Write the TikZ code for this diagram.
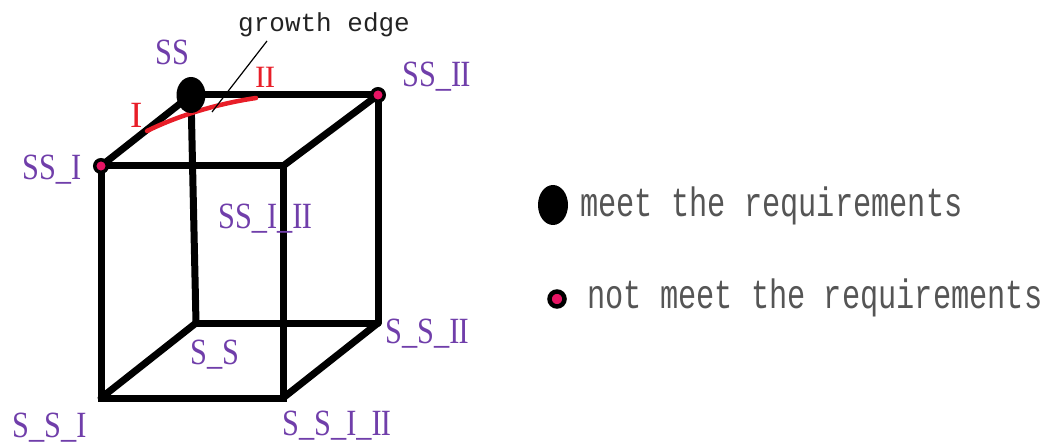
\documentclass[tikz,border=0pt]{standalone}
\usepackage{fontspec}
\setmainfont{Liberation Serif}
\newfontfamily\labfont[FakeStretch=0.82]{Liberation Serif}
\newfontfamily\legfont[FakeStretch=0.74]{Liberation Mono}
\newfontfamily\grfont[FakeStretch=1.0]{Liberation Mono}
\definecolor{labpurple}{RGB}{112,62,170}
\definecolor{numred}{RGB}{232,30,40}
\definecolor{dotpink}{RGB}{232,20,100}
\definecolor{leggray}{RGB}{85,85,85}
\tikzset{
  edge/.style={line width=7pt, line cap=round, line join=miter},
  lab/.style={inner sep=0, anchor=base west, text=labpurple, font=\labfont\fontsize{37}{37}\selectfont},
  roman/.style={inner sep=0, anchor=base west, text=numred},
  legtext/.style={inner sep=0, anchor=base west, text=leggray, font=\legfont\fontsize{41}{41}\selectfont},
  smalldot/.style={circle, fill=dotpink, draw=black, line width=3.5pt, inner sep=0, minimum size=12.5pt},
}
\usetikzlibrary{shapes.geometric}
\begin{document}
\begin{tikzpicture}[x=1pt,y=-1pt]
\useasboundingbox (0,0) rectangle (1048,446);
% cube vertices
\coordinate (A) at (191,95);
\coordinate (B) at (378,95);
\coordinate (C) at (101,166);
\coordinate (D) at (283,166);
\coordinate (E) at (196,323);
\coordinate (F) at (378,323);
\coordinate (G) at (101,398);
\coordinate (H) at (283,398);
% edges
\draw[edge] (A) -- (E);
\draw[edge] (E) -- (F);
\draw[edge] (E) -- (G);
\draw[edge] (A) -- (B);
\draw[edge] (B) -- (F);
\draw[edge] (A) -- (C);
\draw[edge] (B) -- (D);
\draw[edge] (F) -- (H);
\draw[edge] (C) -- (D) -- (H) -- (G) -- cycle;
% growth edge (red)
\coordinate (R1) at (147,131);
\coordinate (R2) at (256,98);
\draw[numred, line width=4.5pt, line cap=round] (R1) .. controls (175,117) and (215,104) .. (R2);
% dots
\fill[black] (A) ellipse (14.5pt and 18pt);
\node[smalldot] (dC) at (C) {};
\node[smalldot] (dB) at (B) {};
% leader line
\coordinate (L1) at (267,41);
\coordinate (L2) at (212,112);
\draw[black, line width=1.2pt] (L1) -- (L2);
\node[inner sep=0, anchor=base west, text={rgb,255:red,35;green,35;blue,35}, font=\grfont\fontsize{26}{26}\selectfont] (gr) at (238,32) {growth edge};
% red numerals
\node[roman, font=\fontsize{37}{37}\selectfont] (rI) at (130,128) {I};
\node[roman, font=\fontsize{31}{31}\selectfont] (rII) at (255,88) {I\kern-0.02em I};
% labels
\node[lab] (lSS) at (155,65) {SS};
\node[lab] (lSSII) at (402,87) {SS\_I\kern-0.02em I};
\node[lab] (lSSI) at (22,180) {SS\_I};
\node[lab] (lSSIII) at (218,229) {SS\_I\_I\kern-0.02em I};
\node[lab] (lS_S) at (190,364) {S\_S};
\node[lab] (lS_SII) at (385,343) {S\_S\_I\kern-0.02em I};
\node[lab] (lS_SI) at (12,437) {S\_S\_I};
\node[lab] (lS_SIII) at (282,435) {S\_S\_I\_I\kern-0.02em I};
% legend
\fill[black] (553,205) ellipse (15pt and 20pt);
\node[smalldot, minimum size=15pt, line width=4.5pt] (ld) at (557,299) {};
\node[legtext] (lg1) at (580,217) {meet the requirements};
\node[legtext] (lg2) at (587,308) {not meet the requirements};
\end{tikzpicture}
\end{document}
